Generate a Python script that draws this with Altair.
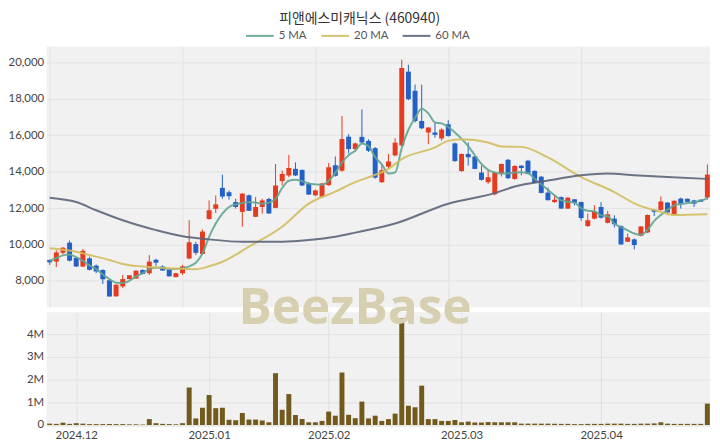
import altair as alt
import pandas as pd

# ---------------- data ----------------
opens = [9150, 9060, 9540, 10100, 9260, 8790, 9240, 8840, 8600, 8040,
         7150, 7700, 8100, 8130, 8600, 8420, 9160, 8790, 8600, 8210,
         8420, 9230, 10020, 9480, 11400, 11960, 13110, 12870, 12330, 11790,
         12700, 11520, 12060, 12500, 12010, 13480, 13790, 14150, 14090, 13330,
         12700, 12620, 13260, 14350, 14050, 15920, 15240, 15910, 15690, 15290,
         13420, 14270, 14890, 15440, 19490, 18440, 16780, 16150, 16150, 15820,
         16600, 15550, 14030, 14970, 14830, 13950, 13420, 12760, 13900, 14650,
         13600, 14330, 14600, 14040, 13720, 12850, 12330, 12600, 11970, 12480,
         12330, 11010, 11420, 12060, 11190, 11420, 11010, 10150, 10280, 10480,
         10660, 11910, 11900, 12300, 11660, 12520, 12510, 12420, 12460, 12580]
highs = [9180, 9680, 9860, 10220, 9300, 9760, 9330, 8900, 8640, 8060,
         7820, 8330, 8320, 8580, 8640, 9420, 9220, 8860, 8640, 8450,
         8880, 11330, 10150, 10820, 12420, 12690, 13830, 12970, 12510, 12820,
         12740, 12600, 12510, 12560, 14420, 14060, 14920, 14510, 14130, 13390,
         13010, 13380, 14470, 14830, 17060, 16060, 15600, 17420, 15780, 15350,
         14420, 14970, 15830, 20150, 19870, 18780, 18780, 16450, 16690, 16380,
         16820, 15600, 14990, 15600, 14870, 14330, 14090, 13950, 14440, 14700,
         14360, 14350, 14650, 14080, 13760, 13120, 12690, 12640, 12600, 12500,
         12360, 11690, 12150, 12330, 11840, 11600, 11050, 10600, 10330, 11000,
         11650, 11920, 12640, 12330, 12420, 12570, 12520, 12450, 12470, 14390]
lows = [8880, 8760, 9440, 9070, 8760, 8760, 8570, 8420, 7830, 7150,
        7140, 7600, 8080, 8110, 8360, 8330, 8830, 8560, 8240, 8190,
        8330, 9190, 9420, 9420, 11360, 11730, 12510, 12460, 11970, 10970,
        11840, 11500, 11700, 11690, 11990, 13240, 13690, 13760, 13200, 12720,
        12650, 12590, 13220, 13730, 14000, 15000, 15100, 15550, 15080, 13610,
        13380, 14150, 14840, 15370, 17930, 16700, 16330, 15510, 15870, 15700,
        15930, 14540, 13990, 14330, 14130, 13500, 13330, 12700, 13730, 13600,
        13560, 13790, 13850, 13360, 12800, 12420, 12280, 11950, 11950, 12150,
        11300, 10960, 11380, 11420, 11150, 10930, 9990, 10150, 9730, 10440,
        10620, 11560, 11860, 11740, 11620, 11970, 12330, 12060, 12330, 12460]
closes = [9020, 9560, 9820, 9110, 8790, 9650, 8610, 8520, 8090, 7150,
          7790, 8100, 8310, 8560, 8380, 9060, 9000, 8570, 8250, 8420,
          8800, 10120, 9540, 10710, 11880, 12200, 12630, 12650, 12060, 12790,
          11850, 12060, 12420, 11700, 13240, 13870, 14200, 13790, 13240, 12740,
          12970, 13350, 14240, 13770, 15790, 15240, 15550, 15600, 15150, 13670,
          14080, 14560, 15590, 19690, 17980, 16780, 16380, 16420, 16020, 16310,
          15950, 14580, 14970, 14790, 14150, 13550, 13690, 13940, 14420, 13640,
          14310, 14200, 13870, 13380, 12830, 12430, 12460, 11970, 12570, 12290,
          11450, 11330, 11800, 11470, 11660, 11110, 10000, 10390, 9970, 10990,
          11620, 11790, 12360, 11760, 12400, 12240, 12340, 12240, 12340, 13840]
volumes = [60000, 50000, 100000, 50000, 80000, 60000, 40000, 40000, 40000, 40000,
           40000, 40000, 30000, 30000, 20000, 260000, 80000, 50000, 40000, 30000,
           80000, 1650000, 290000, 760000, 1320000, 740000, 760000, 230000, 210000, 530000,
           240000, 240000, 200000, 120000, 2280000, 670000, 1360000, 440000, 260000, 120000,
           120000, 180000, 590000, 410000, 2310000, 450000, 300000, 1030000, 290000, 410000,
           180000, 260000, 500000, 4700000, 850000, 780000, 1730000, 260000, 260000, 180000,
           180000, 220000, 120000, 150000, 110000, 110000, 130000, 120000, 120000, 120000,
           120000, 60000, 60000, 60000, 60000, 60000, 50000, 50000, 50000, 40000,
           40000, 50000, 50000, 50000, 60000, 60000, 60000, 50000, 50000, 60000,
           60000, 70000, 120000, 60000, 50000, 50000, 50000, 50000, 50000, 940000]

ma5 = [9100, 9250, 9400, 9450, 9300, 9100, 8850, 8650, 8350, 8100,
       7900, 7880, 8000, 8250, 8430, 8650, 8720, 8720, 8650, 8660,
       8700, 8800, 9000, 9500, 10420, 11150, 11700, 12060, 12200, 12280,
       12330, 12300, 12240, 12300, 12500, 13100, 13500, 13550, 13480, 13350,
       13300, 13280, 13500, 13930, 14500, 14900, 15150, 15550, 15400, 14800,
       14400, 13900, 13950, 15300, 16300, 16950, 17450, 17200, 16700, 16650,
       16450, 16150, 15800, 15400, 14900, 14420, 14100, 13950, 13900, 13900,
       13950, 13960, 13930, 13600, 13300, 13000, 12700, 12420, 12350, 12300,
       12000, 11850, 11820, 11600, 11550, 11150, 10950, 10780, 10600, 10530,
       10800, 11300, 11620, 11900, 12150, 12220, 12280, 12320, 12400, 12550]

ma20_idx = [0, 4, 6, 9, 11, 14, 18, 22, 24, 26, 30, 35, 39, 43, 46, 48, 51, 53,
            58, 60, 62, 66, 68, 71, 75, 80, 85, 88, 92, 94, 99]
ma20_val = [9790, 9600, 9420, 9150, 8930, 8790, 8700, 8640, 8800, 9050, 9880,
            10970, 12240, 12900, 13420, 13690, 14150, 14690, 15330, 15690, 15780,
            15600, 15380, 15360, 14780, 13700, 12880, 12260, 11790, 11620, 11660]

ma60_idx = [0, 4, 7, 11, 16, 20, 24, 29, 35, 39, 43, 46, 52, 60, 67, 70, 75,
            80, 84, 88, 93, 99]
ma60_val = [12570, 12330, 11880, 11330, 10790, 10450, 10280, 10150, 10150, 10240,
            10420, 10650, 11150, 12240, 12820, 13180, 13510, 13800, 13900, 13800,
            13700, 13600]

series_names = ["5 MA", "20 MA", "60 MA"]
series_colors = ["#62a593", "#d2bd5e", "#5b6479"]

month_labels = ["2024.12", "2025.01", "2025.02", "2025.03", "2025.04"]
month_idx = [4, 24, 42, 62, 83]

price_ticks = [8000, 10000, 12000, 14000, 16000, 18000, 20000]
volume_ticks = [0, 1000000, 2000000, 3000000, 4000000]

title_text = "피앤에스미캐닉스 (460940)"
watermark = "BeezBase"

# ---------------- tables ----------------
df = pd.DataFrame({"i": list(range(len(closes))), "open": opens, "high": highs,
                   "low": lows, "close": closes, "volume": volumes})
ma_df = pd.concat([
    pd.DataFrame({"i": list(range(len(ma5))), "value": ma5, "series": "5 MA"}),
    pd.DataFrame({"i": ma20_idx, "value": ma20_val, "series": "20 MA"}),
    pd.DataFrame({"i": ma60_idx, "value": ma60_val, "series": "60 MA"}),
], ignore_index=True)

RED = "#e63b1f"
BLUE = "#2461c6"
VOLC = "#715a1c"
W = 669
FONT = "Lato"

xscale = alt.Scale(domain=[-0.45, 99.4], nice=False, zero=False, padding=0)
yscale = alt.Scale(domain=[6550, 20870], nice=False, zero=False)

label_expr = " : ".join(
    f"datum.value == {v} ? '{l}'" for v, l in zip(month_idx, month_labels)) + " : ''"

up_cond = alt.condition("datum.close >= datum.open", alt.value(RED), alt.value(BLUE))

xp = alt.X("i:Q", scale=xscale,
           axis=alt.Axis(values=[0, 20, 40, 60, 80], labels=False, ticks=False,
                         domain=False, title=None, grid=True))
y_axis = alt.Axis(values=price_ticks, labelExpr="format(datum.value, ',')",
                  ticks=False, domain=False, title=None, labelPadding=3,
                  minExtent=38, maxExtent=38)

wick = alt.Chart(df).mark_rule(strokeWidth=1).encode(
    x=xp,
    y=alt.Y("low:Q", scale=yscale, axis=y_axis),
    y2="high:Q",
    color=up_cond,
)
body = alt.Chart(df).mark_bar(size=5).encode(
    x=xp, y=alt.Y("open:Q", scale=yscale, axis=y_axis), y2="close:Q", color=up_cond)

lines = alt.Chart(ma_df).mark_line(strokeWidth=2, interpolate="monotone", opacity=0.9).encode(
    x=xp,
    y=alt.Y("value:Q", scale=yscale, axis=y_axis),
    color=alt.Color("series:N", sort=series_names,
                    scale=alt.Scale(domain=series_names, range=series_colors),
                    legend=alt.Legend(orient="none", direction="horizontal", title=None,
                                      legendX=200, legendY=-26, symbolType="stroke",
                                      symbolStrokeWidth=2, symbolSize=784,
                                      labelFontSize=11.5, labelFont=FONT,
                                      labelColor="#555", columnPadding=10,
                                      labelOffset=4)),
)

price = alt.layer(wick, body, lines).properties(width=W, height=263)

vol_bars = alt.Chart(df).mark_bar(size=5, color=VOLC).encode(
    x=alt.X("i:Q", scale=xscale,
            axis=alt.Axis(values=month_idx, labelExpr=label_expr, ticks=False,
                          domain=False, title=None, grid=True, labelPadding=2)),
    y=alt.Y("volume:Q", scale=alt.Scale(domain=[-100000, 4960000], nice=False, zero=False),
            axis=alt.Axis(values=volume_ticks,
                          labelExpr="datum.value == 0 ? '0' : (datum.value / 1000000) + 'M'",
                          ticks=False, domain=False, title=None, labelPadding=3,
                          minExtent=38, maxExtent=38)),
    y2=alt.datum(0),
)
wm = alt.Chart(pd.DataFrame({"t": [watermark]})).mark_text(
    font="Open Sans", fontWeight="bold", fontSize=50, color="#d7d0b0",
    align="center", baseline="middle").encode(
    text="t:N", x=alt.value(311), y=alt.value(-3))

volume = alt.layer(vol_bars, wm).properties(width=W, height=116)

chart = alt.vconcat(price, volume, spacing=5, bounds="flush").properties(
    title=alt.Title(title_text, fontSize=14, font="Noto Sans CJK KR", fontWeight="normal",
                    color="#333", anchor="middle", offset=-5),
    padding={"left": 0, "top": 2, "right": 0, "bottom": 0},
    background="white",
).configure_view(stroke=None, fill="#f1f1f1").configure_axis(
    gridColor="#e2e2e2", gridWidth=1, labelColor="#444", labelFont=FONT, labelFontSize=11.5)

chart.save("out.html", embed_options={"renderer": "svg", "actions": False})
